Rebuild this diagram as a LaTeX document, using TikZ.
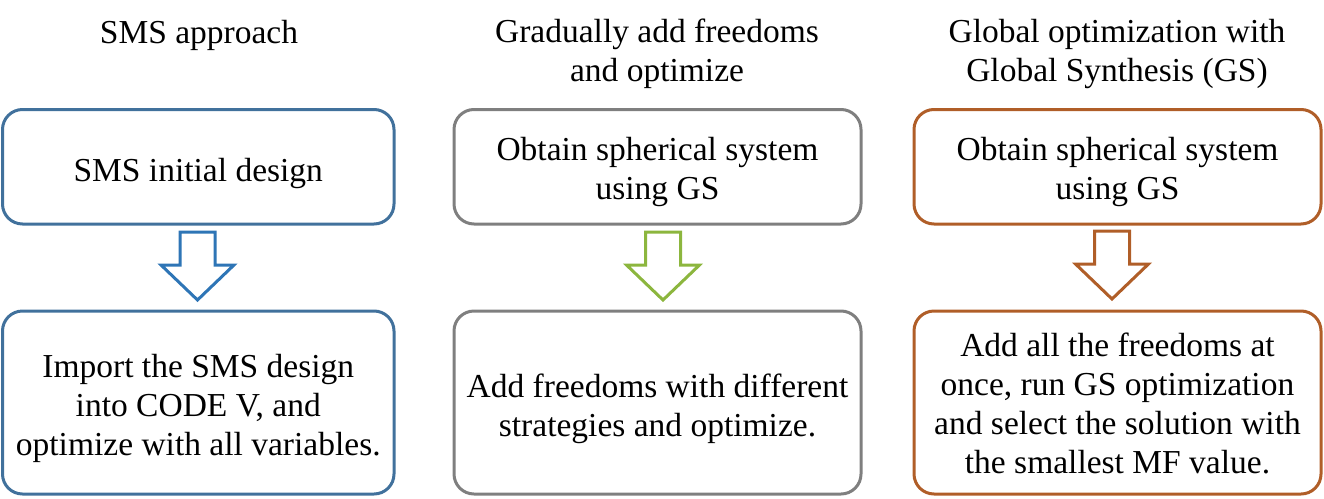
\documentclass[tikz,border=0pt]{standalone}
\usepackage{fontspec}
\setmainfont{Liberation Serif}
\definecolor{cblue}{RGB}{65,113,156}
\definecolor{cblueA}{RGB}{46,117,182}
\definecolor{cgray}{RGB}{127,127,127}
\definecolor{cgreen}{RGB}{140,182,62}
\definecolor{corange}{RGB}{176,94,40}
\begin{document}
\begin{tikzpicture}[x=1pt,y=-1pt,
  txt/.style={align=center, inner sep=0pt, font=\fontsize{33.5}{39}\selectfont},
  box/.style={draw, line width=3pt, rounded corners=20pt, inner sep=0pt},
  upbox/.style={box, minimum height=114.5pt},
  lowbox/.style={box, minimum height=183pt},
  ttl/.style={txt},
  blockarrow/.pic={\draw[pic actions, line width=3pt, line join=miter, fill=white]
    (-17.5,0) -- (17.5,0) -- (17.5,33) -- (36.5,33) -- (0,68) -- (-36.5,33) -- (-17.5,33) -- cycle;}]
\useasboundingbox (0,0) rectangle (1324,498);

% titles
\node[ttl] (t1) at (199,35) {SMS approach};
\node[ttl] (t2) at (657,54) {Gradually add freedoms\\and optimize};
\node[ttl] (t3) at (1117,54) {Global optimization with\\Global Synthesis (GS)};

% upper boxes
\node[upbox, draw=cblue, minimum width=391.5pt] (u1) at (198.25,166.75) {};
\node[upbox, draw=cgray, minimum width=407pt] (u2) at (657.5,166.75) {};
\node[upbox, draw=corange, minimum width=407pt] (u3) at (1117.5,166.75) {};
\node[txt] (u1t) at ([yshift=-6.5pt]u1.center) {SMS initial design};
\node[txt] (u2t) at ([yshift=-5pt]u2.center) {Obtain spherical system\\using GS};
\node[txt] (u3t) at ([yshift=-5pt]u3.center) {Obtain spherical system\\using GS};

% lower boxes
\node[lowbox, draw=cblue, minimum width=391.5pt] (l1) at (198.25,402.5) {};
\node[lowbox, draw=cgray, minimum width=407pt] (l2) at (657.5,402.5) {};
\node[lowbox, draw=corange, minimum width=407pt] (l3) at (1117.5,402.5) {};
\node[txt] (l1t) at ([yshift=-6pt]l1.center) {Import the SMS design\\into CODE V, and\\optimize with all variables.};
\node[txt] (l2t) at ([yshift=-6pt]l2.center) {Add freedoms with different\\strategies and optimize.};
\node[txt] (l3t) at ([yshift=-1pt]l3.center) {Add all the freedoms at\\once, run GS optimization\\and select the solution with\\the smallest MF value.};

% block arrows
\pic[draw=cblueA] at (197.5,232) {blockarrow};
\pic[draw=cgreen] at (663,232) {blockarrow};
\pic[draw=corange] at (1112,231) {blockarrow};
\end{tikzpicture}
\end{document}
